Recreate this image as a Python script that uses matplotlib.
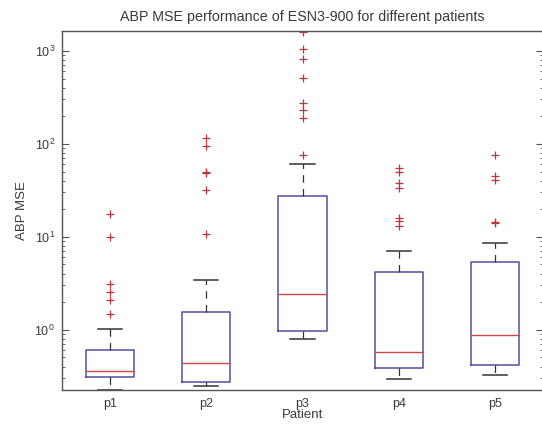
import matplotlib
matplotlib.use("Agg")
from matplotlib import pyplot as plt
from matplotlib.ticker import LogLocator, NullFormatter

plt.rcParams['font.family'] = ['Liberation Sans', 'DejaVu Sans']

patients = ["p1", "p2", "p3", "p4", "p5"]

# box statistics per patient
medians = [0.36, 0.44, 2.39, 0.577, 0.873]
q1 = [0.306, 0.275, 0.97, 0.383, 0.412]
q3 = [0.60, 1.53, 27.5, 4.12, 5.28]
whisLow = [0.225, 0.245, 0.785, 0.29, 0.324]
whisHigh = [1.02, 3.4, 60.5, 7.0, 8.58]

# outliers per patient
fliers = [
    [17.5, 10.0, 3.1, 2.5, 2.1, 1.45],
    [114, 93, 50, 48, 32, 10.7],
    [1580, 1030, 820, 512, 270, 228, 188, 75],
    [54, 50, 38, 33, 16, 14.5, 13],
    [75, 44.5, 40.5, 14.4, 13.8],
]

stats = []
for i in range(len(patients)):
    stats.append({
        "med": medians[i], "q1": q1[i], "q3": q3[i],
        "whislo": whisLow[i], "whishi": whisHigh[i],
        "fliers": fliers[i], "label": patients[i],
    })

fig = plt.figure(figsize=(5.42, 4.24), dpi=100)
ax = fig.add_axes([62 / 542, 1 - 390 / 424, 481 / 542, 359.3 / 424])

boxColor = "#50509e"
redColor = "#c0343e"
ax.bxp(stats, positions=range(1, 6), widths=0.5, manage_ticks=False,
       boxprops=dict(color=boxColor, linewidth=1.1),
       medianprops=dict(color="#d04545", linewidth=1.0),
       whiskerprops=dict(color="#333333", linewidth=0.9, linestyle=(0, (6, 5))),
       capprops=dict(color="#333333", linewidth=1.1),
       flierprops=dict(marker="+", markeredgecolor=redColor, markersize=6,
                       markeredgewidth=0.9, linestyle="none"))

ax.set_yscale("log")
ax.set_ylim(0.2236, 1633)
ax.set_xlim(0.5, 5.5)
ax.yaxis.set_major_locator(LogLocator(base=10, numticks=10))
ax.yaxis.set_minor_locator(LogLocator(base=10, subs=range(2, 10), numticks=10))
ax.yaxis.set_minor_formatter(NullFormatter())
ax.set_xticks(range(1, 6))
ax.set_xticklabels(patients)

textColor = "#3a3a3a"
ax.tick_params(axis="both", which="both", direction="in", colors="#555555",
               labelcolor=textColor, labelsize=9)
ax.tick_params(axis="y", which="both", right=True)
ax.tick_params(axis="y", which="major", length=5, pad=5)
ax.tick_params(axis="y", which="minor", length=2.5)
ax.tick_params(axis="x", which="major", length=0, pad=6)
for s in ax.spines.values():
    s.set_color("#555555")
    s.set_linewidth(1.0)

ax.set_title("ABP MSE performance of ESN3-900 for different patients",
             fontsize=10.3, color=textColor, pad=7)
ax.set_xlabel("Patient", fontsize=9.5, color=textColor, labelpad=-1)
ax.set_ylabel("ABP MSE", fontsize=9.5, color=textColor, labelpad=5)

fig.savefig("out.png", dpi=100)
